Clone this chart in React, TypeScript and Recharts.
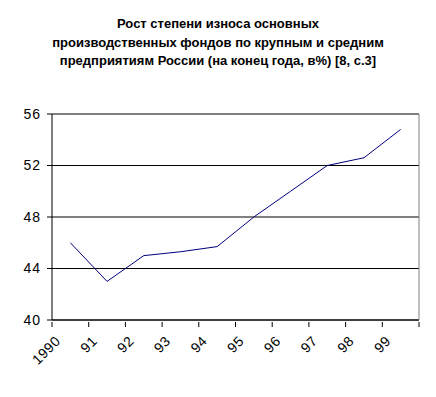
import React from "react";
import { LineChart, Line, XAxis, YAxis, CartesianGrid } from "recharts";

// Wear level of fixed assets, end of year, %
const years = ["1990", "91", "92", "93", "94", "95", "96", "97", "98", "99"];
const wear = [46, 43, 45, 45.3, 45.7, 48, 50, 52, 52.6, 54.8];
const yTicks = [40, 44, 48, 52, 56];

const data = years.map((year, i) => ({ year, wear: wear[i] }));

const W = 436;
const H = 397;
const plotLeft = 52;
const plotRight = 419;
const halfBand = (plotRight - plotLeft) / years.length / 2;

const font = "'Liberation Sans', Arial, sans-serif";

const YearTick = (props: any) => {
  const { x, y, payload, index } = props;
  const last = index === years.length - 1;
  const tx = x - 9;
  const ty = y + 20;
  return (
    <g>
      <line x1={x - halfBand} y1={y} x2={x - halfBand} y2={y + 5} stroke="#000" />
      {last && <line x1={x + halfBand} y1={y} x2={x + halfBand} y2={y + 5} stroke="#000" />}
      <text
        x={tx}
        y={ty}
        textAnchor="end"
        transform={`rotate(-45, ${tx}, ${ty})`}
        fontFamily={font}
        fontSize={14}
        letterSpacing={0.5}
        fill="#000"
      >
        {payload.value}
      </text>
    </g>
  );
};

const App = () => {
  return (
    <div style={{ position: "absolute", left: 0, top: 0, width: W, height: H, background: "#fff" }}>
      <div
        style={{
          position: "absolute",
          top: 15,
          left: 0,
          width: W,
          textAlign: "center",
          fontFamily: font,
          fontWeight: "bold",
          fontSize: 13,
          lineHeight: "18.5px",
          color: "#000",
        }}
      >
        Рост степени износа основных
        <br />
        производственных фондов по крупным и средним
        <br />
        предприятиям России (на конец года, в%) [8, с.3]
      </div>
      <LineChart width={W} height={H} data={data} margin={{ top: 114, right: 0, bottom: 27, left: 0 }}>
        <CartesianGrid horizontal vertical={false} stroke="#000" strokeWidth={1} />
        <XAxis
          dataKey="year"
          scale="band"
          interval={0}
          height={50}
          axisLine={{ stroke: "#000" }}
          tickLine={false}
          tickSize={0}
          tick={<YearTick />}
        />
        <XAxis xAxisId="top" orientation="top" dataKey="year" height={0} tick={false} tickLine={false} axisLine={{ stroke: "#808080" }} />
        <YAxis
          domain={[40, 56]}
          ticks={yTicks}
          width={plotLeft}
          tickSize={5}
          tickMargin={6}
          axisLine={{ stroke: "#000" }}
          tickLine={{ stroke: "#000" }}
          tick={{ fill: "#000", fontSize: 14, fontFamily: font, letterSpacing: 1 }}
        />
        <YAxis yAxisId="right" orientation="right" width={W - plotRight} domain={[40, 56]} tick={false} tickLine={false} axisLine={{ stroke: "#808080" }} />
        <Line type="linear" dataKey="wear" stroke="#000080" strokeWidth={1} dot={false} isAnimationActive={false} />
      </LineChart>
    </div>
  );
};

export default App;
